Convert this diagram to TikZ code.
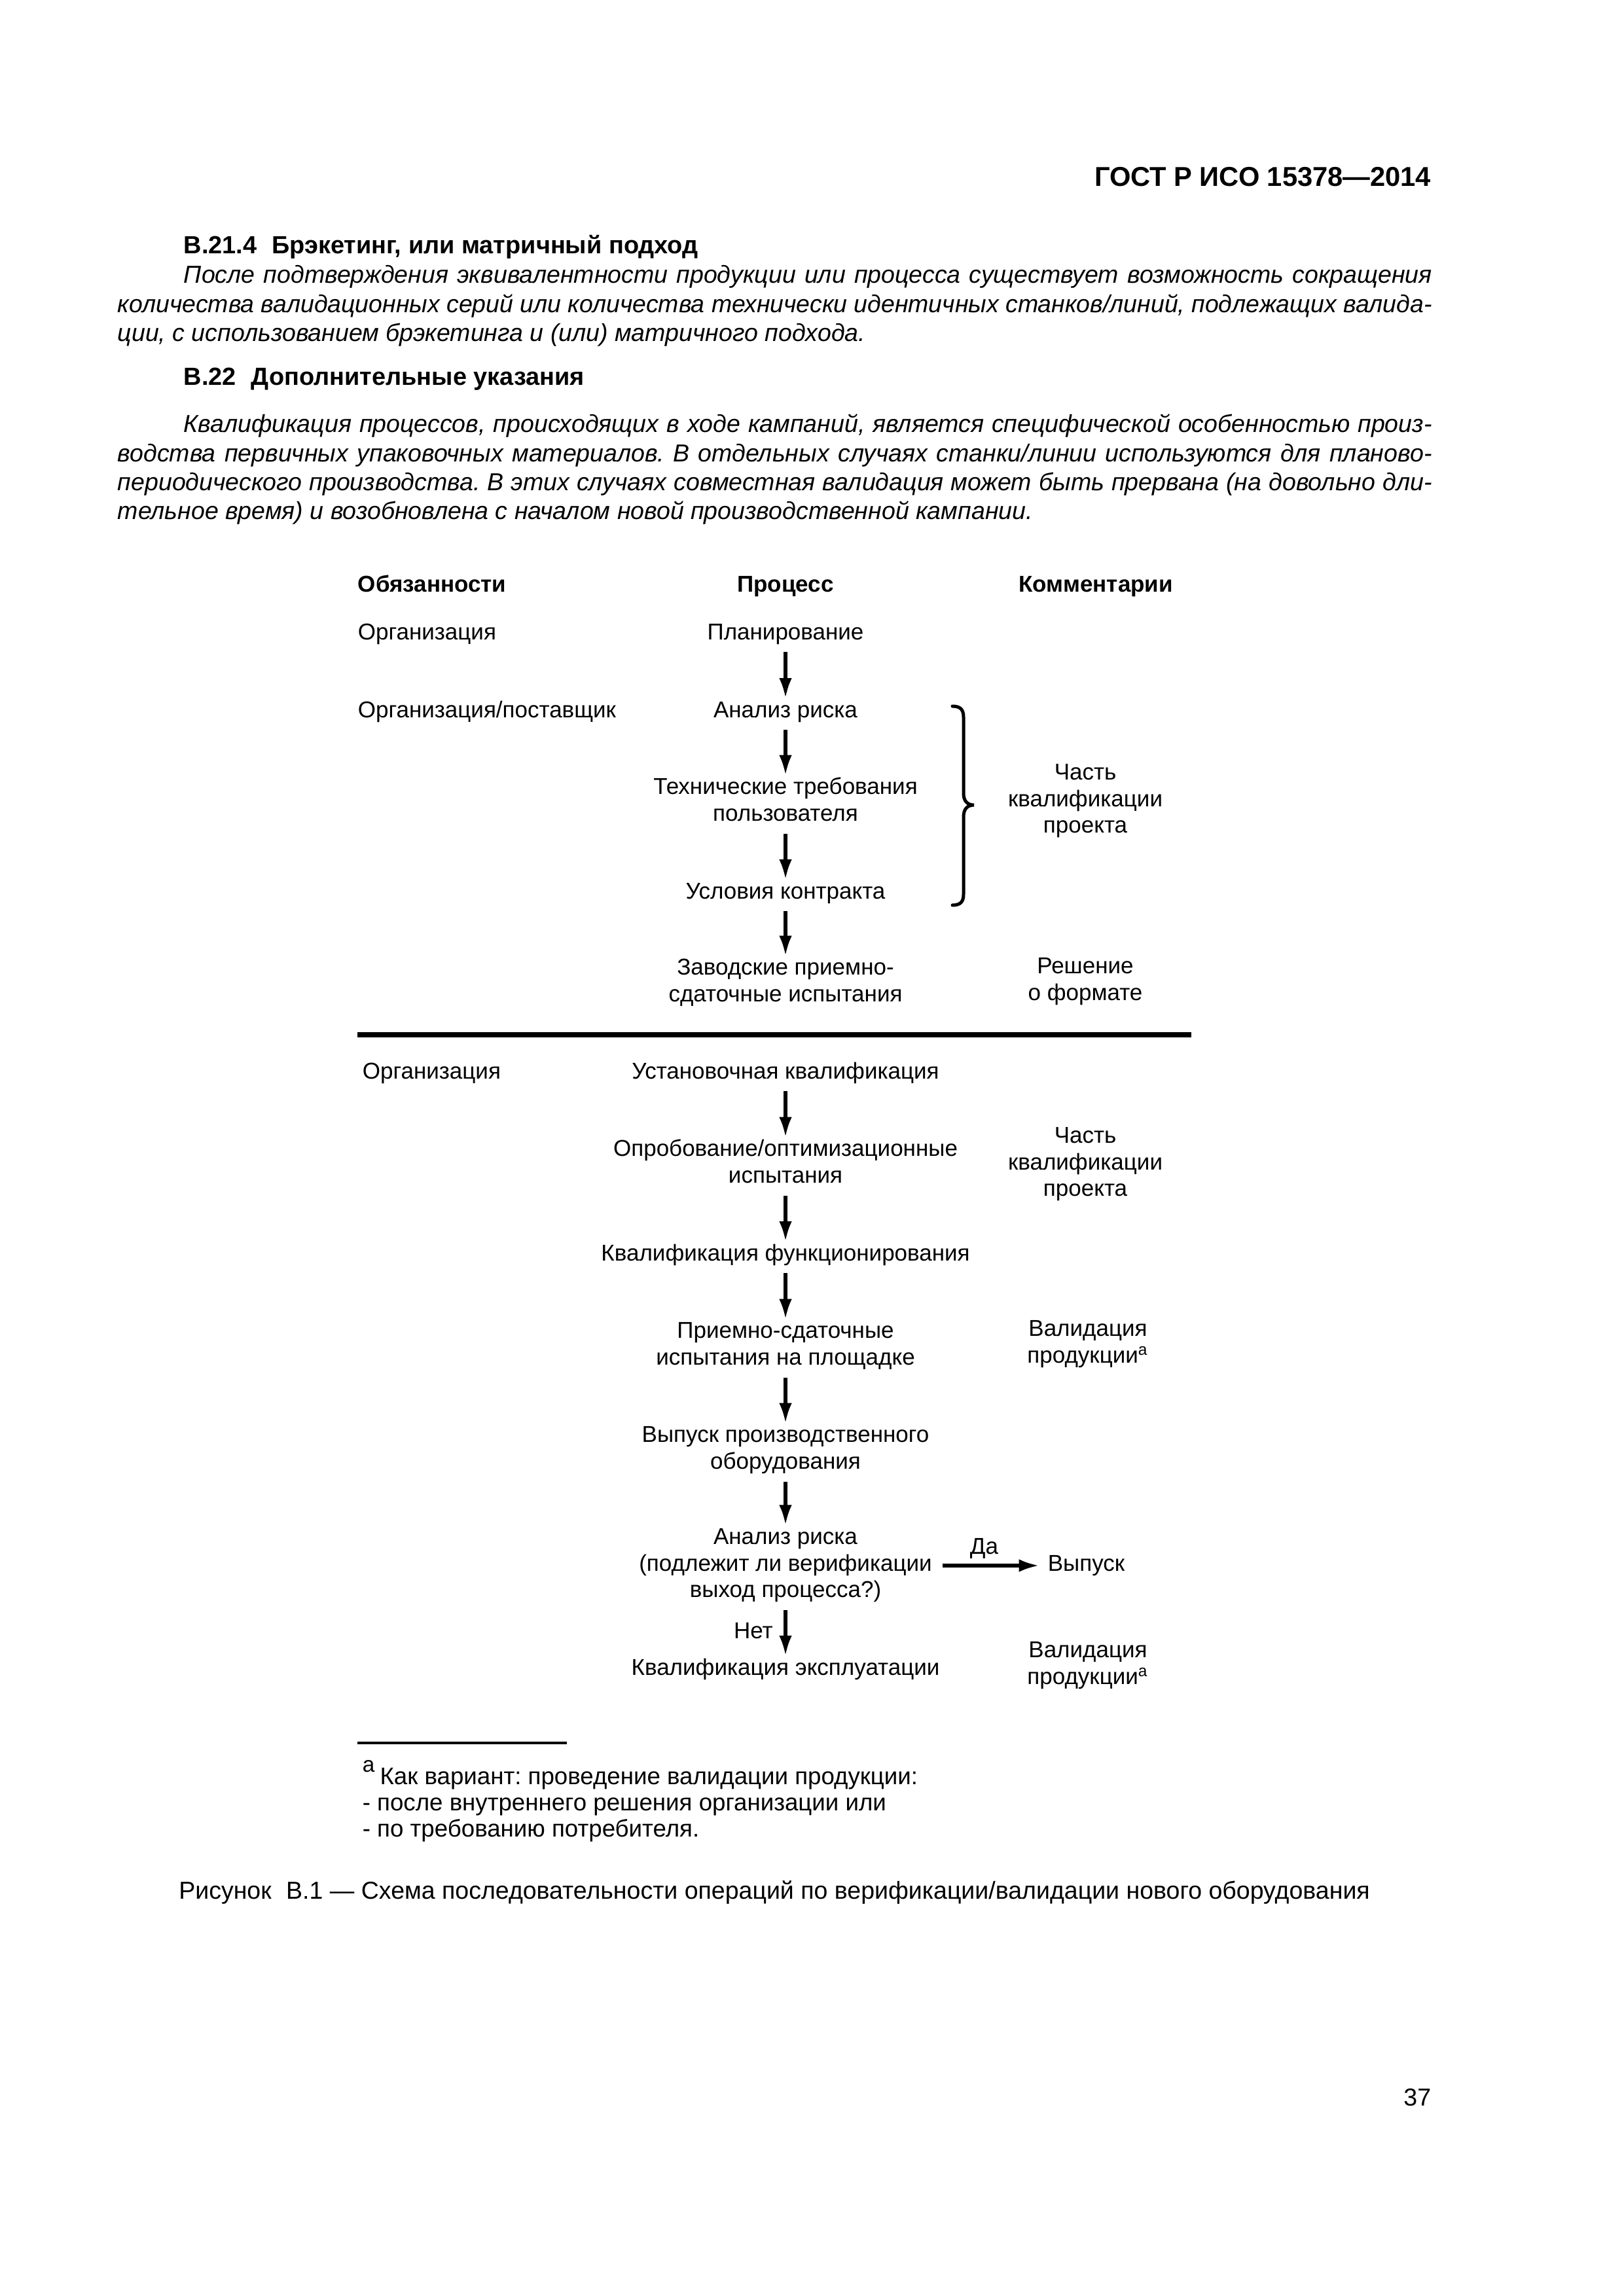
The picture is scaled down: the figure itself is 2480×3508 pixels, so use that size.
\documentclass[tikz,border=0pt]{standalone}
\usepackage{fontspec}
\setmainfont{Liberation Sans}
\usepackage{graphicx}
\usetikzlibrary{arrows.meta}
\frenchspacing
\newcommand\bodyfont{\fontsize{9.0}{10.7}\selectfont}
\newcommand\headfont{\fontsize{9.1}{10.7}\selectfont}
\newcommand\dfont{\fontsize{8.4}{9.75}\selectfont}
\newcommand\fnfont{\fontsize{8.8}{9.75}\selectfont}
\newsavebox\jbox
\newcommand\jline[2]{\sbox\jbox{#2}\ifdim\wd\jbox>#1\relax\resizebox{#1}{\ht\jbox}{\usebox\jbox}\else\makebox[#1][s]{#2}\fi}
\begin{document}
\begin{tikzpicture}[x=0.24pt,y=-0.24pt,
  dtext/.style={font=\dfont, align=center, inner sep=0pt},
  dhead/.style={font=\dfont\bfseries, inner sep=0pt, text height=6.5pt, text depth=2pt},
  btext/.style={font=\bodyfont\itshape, inner sep=0pt, anchor=base west},
  bhead/.style={font=\headfont\bfseries, inner sep=0pt, anchor=base west},
  arr/.style={-{Latex[length=7.4pt,width=4.7pt]}, line width=1.25pt, shorten <=1.5pt},
  fnote/.style={font=\fnfont, inner sep=0pt, anchor=base west}]
\fill[white] (0,0) rectangle (2480,3508);
\useasboundingbox (0,0) rectangle (2480,3508);

% page header
\node[anchor=base east, font=\fontsize{10}{12}\selectfont\bfseries, inner sep=0pt] (hdr) at (2187,285) {ГОСТ Р ИСО 15378—2014};

% section B.21.4
\node[bhead] (s1) at (280,388) {В.21.4\hspace{0.6em}Брэкетинг, или матричный подход};
\node[btext] (p1a) at (280,433) {\jline{457.7pt}{После подтверждения эквивалентности продукции или процесса существует возможность сокращения}};
\node[btext] (p1b) at (179,478) {\jline{481.9pt}{количества валидационных серий или количества технически идентичных станков/линий, подлежащих валида-}};
\node[btext] (p1c) at (179,522) {ции, с использованием брэкетинга и (или) матричного подхода.};

% section B.22
\node[bhead] (s2) at (280,589) {В.22\hspace{0.6em}Дополнительные указания};
\node[btext] (p2a) at (280,661) {\jline{457.7pt}{Квалификация процессов, происходящих в ходе кампаний, является специфической особенностью произ-}};
\node[btext] (p2b) at (179,706) {\jline{481.9pt}{водства первичных упаковочных материалов. В отдельных случаях станки/линии используются для планово-}};
\node[btext] (p2c) at (179,750) {\jline{481.9pt}{периодического производства. В этих случаях совместная валидация может быть прервана (на довольно дли-}};
\node[btext] (p2d) at (179,794) {тельное время) и возобновлена с началом новой производственной кампании.};

% diagram headings
\node[dhead, anchor=west] (hobl) at (546,895) {Обязанности};
\node[dhead] (hproc) at (1200,895) {Процесс};
\node[dhead] (hkom) at (1674,895) {Комментарии};

% upper part
\node[dtext, anchor=west] (org1) at (546,969) {\strut Организация\strut};
\node[dtext] (plan) at (1200,969) {\strut Планирование\strut};
\node[dtext, anchor=west] (orgp) at (546,1088) {\strut Организация/поставщик\strut};
\node[dtext] (risk1) at (1200,1088) {\strut Анализ риска\strut};
\node[dtext] (tech) at (1200,1226) {\strut Технические требования\\\strut пользователя\strut};
\node[dtext] (cond) at (1200,1365) {\strut Условия контракта\strut};
\node[dtext] (fat) at (1200,1502) {\strut Заводские приемно-\\\strut сдаточные испытания\strut};
\node[dtext] (c1) at (1658,1224) {\strut Часть\\\strut квалификации\\\strut проекта\strut};
\node[dtext] (c2) at (1658,1500) {\strut Решение\\\strut о формате\strut};

\draw[arr] (plan) -- (risk1);
\draw[arr] (risk1) -- (tech);
\draw[arr] (tech) -- (cond);
\draw[arr] (cond) -- (fat);

% brace
\draw[line width=1.2pt, line cap=round]
  (1455,1079) .. controls (1468,1079) and (1472,1085) .. (1472,1096)
  -- (1472,1212) .. controls (1472,1224) and (1478,1230) .. (1488,1230)
  .. controls (1478,1230) and (1472,1236) .. (1472,1248)
  -- (1472,1366) .. controls (1472,1377) and (1468,1383) .. (1455,1383);

% separator
\coordinate (sepL) at (546,1581);
\coordinate (sepR) at (1820,1581);
\draw[line width=1.7pt] (sepL) -- (sepR);

% lower part
\node[dtext, anchor=west] (org2) at (553,1640) {\strut Организация\strut};
\node[dtext] (iq) at (1200,1640) {\strut Установочная квалификация\strut};
\node[dtext] (opt) at (1200,1779) {\strut Опробование/оптимизационные\\\strut испытания\strut};
\node[dtext] (c3) at (1658,1779) {\strut Часть\\\strut квалификации\\\strut проекта\strut};
\node[dtext] (oq) at (1200,1918) {\strut Квалификация функционирования\strut};
\node[dtext] (sat) at (1200,2057) {\strut Приемно-сдаточные\\\strut испытания на площадке\strut};
\node[dtext] (c4) at (1662,2054) {\strut Валидация\\\strut продукции\textsuperscript{а}\strut};
\node[dtext] (rel) at (1200,2216) {\strut Выпуск производственного\\\strut оборудования\strut};
\node[dtext] (risk2) at (1200,2392) {\strut Анализ риска\\\strut (подлежит ли верификации\\\strut выход процесса?)\strut};
\node[dtext, anchor=west] (out) at (1600,2392) {\strut Выпуск\strut};
\node[dtext] (pq) at (1200,2551) {\strut Квалификация эксплуатации\strut};
\node[dtext] (c5) at (1662,2545) {\strut Валидация\\\strut продукции\textsuperscript{а}\strut};

\draw[arr] (iq) -- (opt);
\draw[arr] (opt) -- (oq);
\draw[arr] (oq) -- (sat);
\draw[arr] (sat) -- (rel);
\draw[arr] (rel) -- (risk2);
\draw[arr, shorten <=3.6pt, shorten >=3pt] (risk2) -- node[dtext, above=2pt, pos=0.45] (yes) {Да} (out);
\draw[arr] (risk2) -- node[dtext, left=4pt] (no) {Нет} (pq);

% footnote
\coordinate (fnL) at (546,2663);
\coordinate (fnR) at (866,2663);
\draw[line width=1pt] (fnL) -- (fnR);
\node[fnote] (fn1) at (553,2726) {{\large\textsuperscript{а}}\,Как вариант: проведение валидации продукции:};
\node[fnote] (fn2) at (553,2766) {- после внутреннего решения организации или};
\node[fnote] (fn3) at (553,2806) {- по требованию потребителя.};

% caption
\node[font=\bodyfont, inner sep=0pt, anchor=base] (cap) at (1183,2901) {Рисунок\hspace{0.6em}В.1 — Схема последовательности операций по верификации/валидации нового оборудования};

% page number
\node[anchor=base east, font=\bodyfont, inner sep=0pt] (pg) at (2187,3217) {37};
\end{tikzpicture}
\end{document}
